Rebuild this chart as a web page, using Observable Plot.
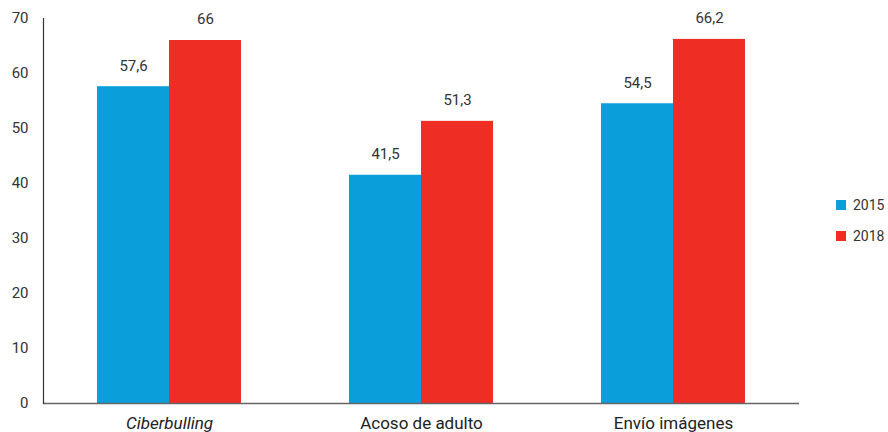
<!DOCTYPE html>
<html>
<head>
<meta charset="utf-8">
<script src="https://cdn.jsdelivr.net/npm/d3@7"></script>
<script src="https://cdn.jsdelivr.net/npm/@observablehq/plot@0.6"></script>
<style>
  html, body { margin: 0; padding: 0; background: #fff; }
  #wrap { position: relative; width: 888px; height: 432px; font-family: Roboto, sans-serif; overflow: hidden; }
  #legend { position: absolute; left: 836px; top: 197px; white-space: nowrap; }
  #legend > div { margin-bottom: 14px !important; }
</style>
</head>
<body>
<div id="wrap"></div>
<script>
const categories = ["Ciberbulling", "Acoso de adulto", "Envío imágenes"];
const italicCategories = ["Ciberbulling"];
const years = ["2015", "2018"];
const values2015 = [57.6, 41.5, 54.5];
const values2018 = [66, 51.3, 66.2];
const yTicks = [0, 10, 20, 30, 40, 50, 60, 70];
const colors = ["#0a9fda", "#ee2e24"];

const data = [];
categories.forEach((c, i) => {
  data.push({cat: c, year: years[0], value: values2015[i]});
  data.push({cat: c, year: years[1], value: values2018[i]});
});

const label = v => String(v).replace(".", ",");

const chart = Plot.plot({
  width: 888,
  height: 432,
  marginLeft: 43,
  marginRight: 89,
  marginTop: 18,
  marginBottom: 29,
  style: {fontFamily: "Roboto, sans-serif", fontSize: "15px", color: "#333"},
  fx: {domain: categories, padding: 0, label: null, axis: null},
  x: {domain: years, paddingInner: 0, paddingOuter: 0.75, axis: null},
  y: {domain: [0, 70], ticks: yTicks, tickSize: 0, tickPadding: 15, label: null},
  color: {domain: years, range: colors},
  marks: [
    Plot.barY(data, {fx: "cat", x: "year", y: "value", fill: "year", inset: 0}),
    Plot.text(data, {fx: "cat", x: "year", y: "value", text: d => label(d.value), dy: -21, fill: "#333", fontSize: 15}),
    Plot.axisFx({domain: categories, anchor: "bottom", tickSize: 0, tickPadding: 13, fontSize: 17, label: null, fill: "#222"}),
    Plot.ruleY([0], {stroke: "#666", strokeWidth: 1.5}),
    Plot.frame({anchor: "left", facetAnchor: "left", stroke: "#333", strokeWidth: 1.2})
  ]
});
chart.querySelectorAll("text").forEach(t => {
  if (italicCategories.includes(t.textContent)) t.setAttribute("font-style", "italic");
});
document.getElementById("wrap").appendChild(chart);

const leg = Plot.legend({
  color: {domain: years, range: colors},
  legend: "swatches",
  columns: 1,
  swatchSize: 10,
  style: {fontFamily: "Roboto, sans-serif", fontSize: "14px", color: "#333"}
});
leg.id = "legend";
document.getElementById("wrap").appendChild(leg);
</script>
</body>
</html>
